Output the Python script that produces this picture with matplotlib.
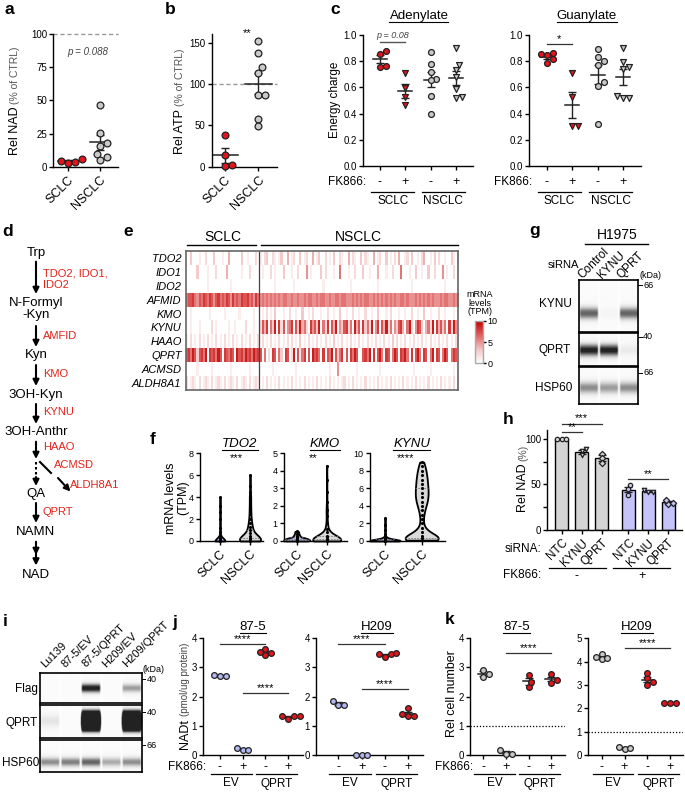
import numpy as np
import matplotlib
matplotlib.use("Agg")
import matplotlib.pyplot as plt
from matplotlib.colors import LinearSegmentedColormap

W, H = 685, 793

# ---------------- data ----------------
# a / b : relative NAD and ATP (% of CTRL)
nad_sclc = [3.0, 6.2, 3.5, 4.5]
nad_nsclc = [46.4, 25.8, 15.8, 18.3, 9.8, 5.3, 7.7]
atp_sclc = [38.3, 14.0, 1.0, 1.5]
atp_nsclc = [152, 137, 120, 113, 87, 87, 58, 49]

# c : energy charge, groups SCLC -, SCLC +, NSCLC -, NSCLC +
fk_signs = ['-', '+', '-', '+']
aden_ec = [[0.852, 0.878, 0.758, 0.766],
           [0.712, 0.593, 0.529, 0.466],
           [0.868, 0.779, 0.715, 0.664, 0.656, 0.534, 0.394],
           [0.903, 0.771, 0.733, 0.677, 0.585, 0.522, 0.529]]
guan_ec = [[0.863, 0.846, 0.853, 0.82, 0.787],
           [0.711, 0.528, 0.308, 0.308],
           [0.893, 0.835, 0.802, 0.771, 0.644, 0.611, 0.318],
           [0.903, 0.791, 0.758, 0.738, 0.517, 0.534, 0.522]]

# d : kynurenine pathway
path_nodes = ['Trp', 'N-Formyl\n-Kyn', 'Kyn', '3OH-Kyn', '3OH-Anthr', 'QA', 'NAMN', 'NAD']
path_enzymes = ['TDO2, IDO1,\nIDO2', 'AMFID', 'KMO', 'KYNU', 'HAAO', 'QPRT']
side_enzymes = ['ACMSD', 'ALDH8A1']

# e : mRNA levels (TPM, 0-9 per cell line) ; SCLC 35 lines, NSCLC 95 lines
genes = ['TDO2', 'IDO1', 'IDO2', 'AFMID', 'KMO', 'KYNU', 'HAAO', 'QPRT', 'ACMSD', 'ALDH8A1']
hm_sclc = ["00300 01002 00030 00100 40000 03001 00020",
           "00000 30000 10002 00004 00000 01000 20000",
           "00000 00000 10000 00000 01000 00000 00000",
           "67786 57687 68757 86768 75867 68778 67586",
           "00100 00000 01000 00010 00000 10000 00100",
           "00100 01000 00201 00000 10010 00020 00100",
           "10201 02010 20102 01020 10201 02010 20102",
           "78697 37869 08786 97087 68709 78697 86978",
           "00000 10000 00100 00000 01000 00000 10000",
           "20121 02012 10201 21020 12102 01210 20121"]
hm_nsclc = ["10230 02101 30040 12003 01200 40130 02010 30021 00402 10030 21004 01200 30102 04001 20300 10240 01030 20010 03102",
            "01000 20100 03000 10020 00501 00003 02000 10060 00100 20003 00100 04000 10020 00600 01003 00100 30020 00501 00200",
            "00000 00100 00000 01000 00000 00000 10000 00000 00010 00000 00000 01000 00000 00000 00100 00000 00000 00010 00000",
            "56565 65656 56655 65565 56566 55656 65565 56656 65556 56565 66556 56565 65656 55665 65556 56565 65655 56566 55656",
            "01020 10300 01002 00100 30010 20001 00200 10030 01002 00100 20010 03000 10200 01001 00200 10030 01000 20010 00100",
            "27480 63908 27056 80739 46208 57390 62807 49053 78260 94708 36290 58074 92605 37840 69205 87304 62908 47360 82950",
            "02010 20102 01020 20103 01020 10201 02010 30102 01020 10201 02010 20102 01030 20102 01020 10201 02010 20102 01020",
            "70602 08706 30870 29071 68070 97860 80769 07368 07086 97007 86908 07960 87069 70879 60807 96087 06908 70697 06870",
            "00000 01000 00000 00100 00000 00000 00010 00500 00000 01000 00000 00100 00000 00000 00010 00000 01000 00000 00100",
            "01020 10102 01010 20101 02010 10201 01020 10101 20102 01010 20101 02010 10201 01020 10102 01010 20101 02010 10201"]

# f : TPM distributions as (value, count)
tdo2_sclc = ([0, 0.05, 0.1, 0.2, 0.3, 0.5, 0.8, 1.2, 2.0, 2.6, 3.2, 4.0],
             [38, 2, 2, 1, 1, 1, 1, 1, 1, 1, 1, 1])
tdo2_nsclc = ([0, 0.1, 0.2, 0.3, 0.5, 0.7, 1.0, 1.3, 1.6, 2.0, 2.5, 3.0, 3.5, 4.0, 4.5, 5.0, 6.0],
              [30, 15, 10, 8, 8, 6, 6, 5, 4, 4, 3, 3, 2, 3, 1, 1, 1])
kmo_sclc = ([0, 0.05, 0.1, 0.15, 0.2, 0.3, 0.4, 0.5, 0.55],
            [10, 8, 8, 6, 5, 4, 3, 2, 1])
kmo_nsclc = ([0, 0.05, 0.1, 0.2, 0.3, 0.5, 0.7, 1.0, 1.4, 1.75, 2.2, 2.8, 3.5, 4.3],
             [20, 15, 12, 8, 5, 3, 2, 2, 1, 2, 1, 1, 1, 1])
kynu_sclc = ([0, 0.05, 0.1, 0.2, 0.3, 0.5, 0.8, 1.2, 1.8, 2.6],
             [20, 12, 10, 6, 4, 2, 1, 1, 1, 1])
kynu_nsclc = ([0.1, 0.3, 0.6, 1.0, 1.5, 2.0, 2.5, 3.0, 3.5, 4.0, 4.5, 5.0, 5.5, 6.0, 6.5, 7.0, 7.5, 8.0, 8.5, 9.0],
              [26, 20, 13, 8, 4, 2, 2, 3, 4, 6, 8, 9, 9, 9, 8, 8, 7, 6, 5, 3])

# g : H1975 capillary blot, lanes Control / KYNU / QPRT siRNA
g_lanes = ['Control', 'KYNU', 'QPRT']
g_kynu = [0.65, 0.05, 0.65]
g_qprt = [0.9, 0.9, 0.12]
g_hsp60 = [0.5, 0.45, 0.5]

# h : Rel NAD (%)
h_sirna = ['NTC', 'KYNU', 'QPRT', 'NTC', 'KYNU', 'QPRT']
h_pts = [[100, 100, 100], [89, 87, 82], [84, 79, 74],
         [49, 45, 39], [44, 42, 41.5], [29, 33, 29.5]]

# i : blot
i_lanes = ['Lu139', '87-5/EV', '87-5/QPRT', 'H209/EV', 'H209/QPRT']
i_flag = [0, 0, 0.95, 0, 0.45]
i_qprt = [0.15, 0, 8, 0, 8]
i_hsp60 = [0.5, 0.55, 0.65, 0.4, 0.5]

# j : NADt (pmol/ug protein) ; groups EV -, EV +, QPRT -, QPRT +
j_875 = [[2.70, 2.74, 2.71], [0.17, 0.23, 0.17], [3.42, 3.52, 3.65, 3.48], [1.25, 1.35, 1.34, 1.33]]
j_h209 = [[1.85, 1.72, 1.73], [0.01, 0.01, 0.01], [3.36, 3.45, 3.48, 3.45], [1.32, 1.60, 1.32, 1.42]]
# k : Rel cell number
k_875 = [[2.93, 2.66, 2.78], [0.04, 0.17, 0.03], [2.34, 2.74, 2.50], [2.48, 2.76, 2.58]]
k_h209 = [[4.33, 4.10, 4.15, 4.18], [0.24, 0.35, 0.29], [3.28, 3.50, 3.12, 3.02], [2.24, 2.24, 2.24]]

RED = '#e3141b'
GRAY = '#c9c9c9'
LAV = '#b4b8f0'
TRED = '#e2231a'

plt.rcParams['font.family'] = ['Liberation Sans', 'DejaVu Sans']
plt.rcParams['axes.linewidth'] = 1.0
plt.rcParams['xtick.major.width'] = 1.0
plt.rcParams['ytick.major.width'] = 1.0
plt.rcParams['xtick.major.size'] = 3
plt.rcParams['ytick.major.size'] = 3
plt.rcParams['xtick.labelsize'] = 7
plt.rcParams['ytick.labelsize'] = 7
plt.rcParams['xtick.major.pad'] = 2
plt.rcParams['ytick.major.pad'] = 1.5

fig = plt.figure(figsize=(W / 100, H / 100), dpi=100)
R = fig.canvas.get_renderer()
ov = fig.add_axes([0, 0, 1, 1], zorder=20)
ov.set_xlim(0, W)
ov.set_ylim(H, 0)
ov.set_axis_off()
ov.patch.set_alpha(0)


def px_ax(l, t, r, b):
    return fig.add_axes([l / W, 1 - b / H, (r - l) / W, (b - t) / H])


def clean(ax):
    ax.spines['top'].set_visible(False)
    ax.spines['right'].set_visible(False)
    ax.patch.set_alpha(0)


def xl(l, r, c0, c1):
    u = c1 - c0
    return ((l - c0) / u, (r - c0) / u)


def to_px(ax, x, y):
    X, Y = ax.transData.transform((x, y))
    return X, H - Y


def utitle(x, y, s, size=9.5, style='normal'):
    t = ov.text(x, y, s, fontsize=size, style=style, ha='center', va='center')
    w = t.get_window_extent(R).width
    ov.plot([x - w / 2, x + w / 2], [y + size * 0.62] * 2, color='k', lw=0.8)


def vlabel(x, yc, parts, gap=2.5):
    ts = [ov.text(x, 0, s, fontsize=sz, color=c, rotation=90, ha='center', va='bottom')
          for s, sz, c in parts]
    hs = [t.get_window_extent(R).height for t in ts]
    y = yc + (sum(hs) + gap * (len(ts) - 1)) / 2
    for t, h in zip(ts, hs):
        t.set_y(y)
        y -= h + gap


def swarm(v, dx, dy):
    off = np.zeros(len(v))
    done = []
    for i in np.argsort(v, kind='stable'):
        o = 0
        for k in (0, 0.5, -0.5, 1, -1, 1.5, -1.5, 2, -2):
            o = k * dx
            if all(((o - p) / dx) ** 2 + ((v[i] - q) / dy) ** 2 >= 0.8 for p, q in done):
                break
        off[i] = o
        done.append((o, v[i]))
    return off


def dotplot(ax, groups, fcs, mks, s=20, hw=0.28, ecol='#222', pos=None):
    bb = ax.get_window_extent(R)
    ppx = bb.width / abs(np.diff(ax.get_xlim())[0])
    ppy = bb.height / abs(np.diff(ax.get_ylim())[0])
    d = np.sqrt(s) * 100 / 72
    if pos is None:
        pos = range(len(groups))
    for i, g in zip(pos, groups):
        v = np.asarray(g, float)
        off = swarm(v, d / ppx, d / ppy)
        m = v.mean()
        se = v.std(ddof=1) / np.sqrt(len(v))
        if hw:
            ax.plot([i - hw, i + hw], [m, m], color=ecol, lw=1.1, zorder=2)
        ax.errorbar(i, m, yerr=se, fmt='none', ecolor=ecol, elinewidth=1,
                    capsize=3, capthick=1, zorder=2)
        k = list(pos).index(i)
        ax.scatter(i + off, v, s=s, marker=mks[k], facecolor=fcs[k], edgecolor='#222',
                   linewidth=0.9, zorder=3, clip_on=False)


def sig(ax, x0, x1, y, s, size=8, col='k'):
    ax.plot([x0, x1], [y, y], color='#333', lw=0.9, clip_on=False)
    ax.text((x0 + x1) / 2, y, s, ha='center', va='bottom', fontsize=size, color=col, clip_on=False)


def fk_row(ax, y, groups, label=True, dy1=10, dy2=19):
    xs = [to_px(ax, i, 0)[0] for i in range(4)]
    if label:
        x0 = to_px(ax, ax.get_xlim()[0], 0)[0]
        ov.text(x0 + 3, y, 'FK866:', ha='right', va='center', fontsize=8.5)
    for x, s in zip(xs, fk_signs):
        ov.text(x, y, s, ha='center', va='center', fontsize=9)
    for (a, b), name in zip([(0, 1), (2, 3)], groups):
        ov.plot([xs[a] - 9, xs[b] + 9], [y + dy1] * 2, color='k', lw=0.9)
        ov.text((xs[a] + xs[b]) / 2, y + dy2, name, ha='center', va='center', fontsize=8.5)


# ---------------- a ----------------
ax = px_ax(53.3, 34, 118.3, 167)
clean(ax)
ax.set_ylim(0, 100)
ax.set_xlim(*xl(53.3, 118.3, 68, 100))
ax.set_yticks([0, 25, 50, 75, 100])
ax.set_xticks([0, 1])
ax.set_xticklabels(['SCLC', 'NSCLC'], rotation=45, ha='right', rotation_mode='anchor', fontsize=9)
ax.axhline(100, color='#999', ls=(0, (3, 2)), lw=1, clip_on=False)
dotplot(ax, [nad_sclc, nad_nsclc], [RED, GRAY], ['o', 'o'], s=24, hw=0.3)
ax.text(0.63, 86.5, 'p = 0.088', style='italic', fontsize=7, color='#444', ha='center', va='center')
vlabel(15, 101, [('Rel NAD', 9, 'k'), ('(% of CTRL)', 7.5, '#555')])

# ---------------- b ----------------
ax = px_ax(211.7, 34.4, 276.7, 166.7)
clean(ax)
ax.set_ylim(0, 160)
ax.set_xlim(*xl(211.7, 276.7, 225, 258.3))
ax.set_yticks([0, 50, 100, 150])
ax.set_xticks([0, 1])
ax.set_xticklabels(['SCLC', 'NSCLC'], rotation=45, ha='right', rotation_mode='anchor', fontsize=9)
ax.axhline(100, color='#999', ls=(0, (3, 2)), lw=1, clip_on=False)
dotplot(ax, [atp_sclc, atp_nsclc], [RED, GRAY], ['o', 'o'], s=24, hw=0.4)
ax.text(0.66, 156, '**', fontsize=8, ha='center', va='bottom')
vlabel(180, 101, [('Rel ATP', 9, 'k'), ('(% of CTRL)', 7.5, '#555')])

# ---------------- c ----------------
for title, data, (l, r, c0, c1), tx in [('Adenylate', aden_ec, (363.3, 473, 380, 405.3), 419),
                                         ('Guanylate', guan_ec, (529.3, 640.7, 546.7, 572.2), 586.7)]:
    ax = px_ax(l, 35, r, 166)
    clean(ax)
    ax.set_ylim(0, 1)
    ax.set_xlim(*xl(l, r, c0, c1))
    ax.set_yticks(np.arange(0, 1.01, 0.2))
    ax.set_yticklabels(['%.1f' % t for t in np.arange(0, 1.01, 0.2)])
    ax.set_xticks(range(4))
    ax.set_xticklabels([])
    dotplot(ax, data, [RED, RED, GRAY, GRAY], ['o', 'v', 'o', 'v'], s=18, hw=0.28)
    utitle(tx, 15.7, title, size=9.5)
    fk_row(ax, 182, ['SCLC', 'NSCLC'])
    if title == 'Adenylate':
        ax.plot([0, 1], [0.949, 0.949], color='#555', lw=1, clip_on=False)
        ax.text(0.5, 0.962, 'p = 0.08', style='italic', fontsize=6.5, color='#444', ha='center', va='bottom')
    else:
        sig(ax, 0, 1, 0.929, '*', size=8)
ov.text(335, 100, 'Energy charge', rotation=90, fontsize=8.5, ha='center', va='center')

# ---------------- d ----------------
node_y = [253, 309, 355, 395, 432.3, 494.3, 531.7, 575]
for s, y in zip(path_nodes, node_y):
    ov.text(36, y, s, fontsize=9.5, ha='center', va='center', linespacing=0.95)
arrow_y = [(261.7, 294), (326, 347), (365, 386), (404, 424), (441.7, 459), (503, 523)]
enz_y = [279, 336, 374, 411.7, 447, 511.7]
for (y0, y1), s, ye in zip(arrow_y, path_enzymes, enz_y):
    ov.annotate('', xy=(36, y1), xytext=(36, y0),
                arrowprops=dict(arrowstyle='-|>', lw=1.5, color='k', mutation_scale=9,
                                shrinkA=0, shrinkB=0))
    ov.text(43, ye, s, fontsize=8, color=TRED, ha='left', va='center', linespacing=1.15)
ov.plot([36, 36], [462, 477], color='k', lw=1.5, ls=(0, (1.2, 1.2)))
ov.annotate('', xy=(36, 486), xytext=(36, 477),
            arrowprops=dict(arrowstyle='-|>', lw=1.5, color='k', mutation_scale=9, shrinkA=0, shrinkB=0))
ov.plot([40, 51], [462, 473], color='k', lw=1.5)
ov.annotate('', xy=(70.5, 491.5), xytext=(58, 478),
            arrowprops=dict(arrowstyle='-|>', lw=1.5, color='k', mutation_scale=9, shrinkA=0, shrinkB=0))
ov.text(54, 465, side_enzymes[0], fontsize=8, color=TRED, ha='left', va='center')
ov.text(70, 485, side_enzymes[1], fontsize=8, color=TRED, ha='left', va='center')
for y0, y1 in [(541.7, 555), (552, 565.5)]:
    ov.annotate('', xy=(36, y1), xytext=(36, y0),
                arrowprops=dict(arrowstyle='-|>', lw=1.5, color='k', mutation_scale=9, shrinkA=0, shrinkB=0))

# ---------------- e ----------------
rows_s = [[int(c) for c in r.replace(' ', '')] for r in hm_sclc]
rows_n = [[int(c) for c in r.replace(' ', '')] for r in hm_nsclc]
ns = min(len(r) for r in rows_s)
nn = min(len(r) for r in rows_n)
M = np.array([a[:ns] + b[:nn] for a, b in zip(rows_s, rows_n)], float)
cmap = LinearSegmentedColormap.from_list('wr', ['#ffffff', '#f3c4c4', '#e06060', '#c00000'])
ax = px_ax(185.7, 251, 458.3, 390)
im = ax.imshow(M, aspect='auto', cmap=cmap, vmin=0, vmax=10, interpolation='nearest',
               extent=(0, ns + nn, len(genes), 0))
ax.axvline(ns, color='#444', lw=0.9)
ax.set_xticks([])
ax.set_yticks(np.arange(len(genes)) + 0.5)
ax.set_yticklabels(genes, fontsize=8, style='italic')
ax.tick_params(axis='y', length=0, pad=3)
for s in ax.spines.values():
    s.set_color('#666')
    s.set_linewidth(1.2)
x_div = to_px(ax, ns, 0)[0]
ov.plot([187, x_div - 3], [245, 245], color='k', lw=1)
ov.plot([x_div + 2, 458], [245, 245], color='k', lw=1)
ov.text((185.7 + x_div) / 2, 237, 'SCLC', fontsize=10, ha='center', va='center')
ov.text((x_div + 458.3) / 2, 237, 'NSCLC', fontsize=10, ha='center', va='center')
cax = px_ax(475, 321, 483.3, 363.3)
cb = fig.colorbar(im, cax=cax, ticks=[0, 5, 10])
cb.outline.set_edgecolor('#aaa')
cax.tick_params(labelsize=6.5, length=2, pad=1)
ov.text(480, 303, 'mRNA\nlevels\n(TPM)', fontsize=6.5, ha='center', va='center', linespacing=0.9)

# ---------------- f ----------------
f_sets = [('TDO2', tdo2_sclc, tdo2_nsclc, (200, 263.3, 220, 250), 8, [0, 2, 4, 6, 8], '***', (10, 21), 240, 0.3),
          ('KMO', kmo_sclc, kmo_nsclc, (284, 347, 296.7, 326.7), 5, [0, 1, 2, 3, 4, 5], '**', (26, 28), 325, 0.3),
          ('KYNU', kynu_sclc, kynu_nsclc, (370, 445, 385, 421.7), 10, [0, 2, 4, 6, 8, 10], '****', (30, 33), 411.7, 0.17)]
for name, sc, ns_, (l, r, c0, c1), top, ticks, star, wpx, tx, bw in f_sets:
    ax = px_ax(l, 453.3, r, 541)
    clean(ax)
    ax.set_ylim(0, top)
    ax.set_xlim(*xl(l, r, c0, c1))
    ax.set_yticks(ticks)
    ax.tick_params(axis='y', labelsize=6.5)
    ax.set_xticks([0, 1])
    ax.set_xticklabels(['SCLC', 'NSCLC'], rotation=45, ha='right', rotation_mode='anchor', fontsize=9)
    for p, (vals, cnt), fc, w in zip([0, 1], [sc, ns_], [LAV, '#d9d9d9'], wpx):
        data = np.repeat(vals, cnt).astype(float)
        parts = ax.violinplot([data], positions=[p], widths=w / (c1 - c0), showextrema=False,
                              bw_method=0.3 if p == 0 else bw)
        body = parts['bodies'][0]
        body.set_facecolor(fc)
        body.set_edgecolor('k')
        body.set_linewidth(1.3)
        body.set_alpha(1)
        body.set_clip_on(False)
        vt = body.get_paths()[0].vertices
        rs = vt[vt[:, 0] >= p]
        o = np.argsort(rs[:, 1])
        for q in np.percentile(data, [25, 50, 75]):
            hwid = np.interp(q, rs[o, 1], rs[o, 0]) - p
            if hwid > 0.05:
                ax.plot([p - hwid, p + hwid], [q, q], color='#777', lw=0.6, ls=(0, (2, 1.5)), zorder=3)
        ax.scatter(np.full(len(vals), p), vals, s=1.5, c='k', zorder=4, clip_on=False)
    utitle(tx, 444.3, name, size=9.5, style='italic')
    ov.text(to_px(ax, 0.55, 0)[0], 458, star, fontsize=8, ha='center', va='center')
ov.text(177, 498, 'mRNA levels\n(TPM)', rotation=90, fontsize=9, ha='center', va='center', linespacing=1.0)


# ---------------- blots ----------------
def blot(l, t, r, b, amps, yc, sg):
    a = px_ax(l, t, r, b)
    n = len(amps)
    yy = np.linspace(0, 1, 160)[:, None]
    xx = (np.arange(n * 40) + 0.5)[None, :] / 40
    fr = xx % 1
    lane = np.clip((0.5 - np.abs(fr - 0.5)) / 0.09, 0, 1)
    amp = np.repeat(np.asarray(amps, float), 40)[None, :]
    img = 0.035 * lane + amp * lane * np.exp(-0.5 * ((yy - yc) / sg) ** 2)
    a.imshow(np.clip(img, 0, 0.88), cmap='Greys', vmin=0, vmax=1, aspect='auto',
             extent=(0, n, 1, 0), interpolation='bilinear')
    a.set_xticks([])
    a.set_yticks([])
    for s in a.spines.values():
        s.set_linewidth(1.2)
    return a


def kda(x, y, s):
    ov.plot([x, x + 3.5], [y, y], color='k', lw=0.7)
    ov.text(x + 5, y, s, fontsize=6.5, ha='left', va='center')


# g
blot(579, 280, 638.3, 331.7, g_kynu, 0.64, 0.085)
blot(579, 333.3, 638.3, 365.7, g_qprt, 0.52, 0.13)
blot(579, 367.3, 638.3, 404, g_hsp60, 0.56, 0.12)
for k, s in enumerate(g_lanes):
    xc = 579 + (k + 0.5) * (638.3 - 579) / 3
    ov.text(xc - 7, 279, s, rotation=45, rotation_mode='anchor', ha='left', va='baseline', fontsize=8.5)
ov.text(555, 304.3, 'KYNU', fontsize=8.5, ha='center', va='center')
ov.text(555, 350, 'QPRT', fontsize=8.5, ha='center', va='center')
ov.text(554, 387.7, 'HSP60', fontsize=8.5, ha='center', va='center')
ov.text(563, 265, 'siRNA', fontsize=8, ha='center', va='center')
ov.text(617, 235, 'H1975', fontsize=10, ha='center', va='center')
ov.plot([585, 648], [244, 244], color='k', lw=1)
ov.text(640, 275, '(kDa)', fontsize=6.5, ha='left', va='center')
kda(638.3, 285, '66')
kda(638.3, 336.7, '40')
kda(638.3, 372.7, '66')

# i
blot(40, 672.7, 141.7, 702.7, i_flag, 0.52, 0.1)
blot(40, 705, 141.7, 738.3, i_qprt, 0.5, 0.14)
blot(40, 740, 141.7, 772.3, i_hsp60, 0.7, 0.1)
i_lane_w = (141.7 - 40) / 5
for k, s in enumerate(i_lanes):
    xc = 40 + (k + 0.5) * i_lane_w
    ov.text(xc - 5, 668, s, rotation=45, rotation_mode='anchor', ha='left', va='baseline', fontsize=8)
ov.text(38, 689, 'Flag', fontsize=8.5, ha='right', va='center')
ov.text(38, 723, 'QPRT', fontsize=8.5, ha='right', va='center')
ov.text(39, 762.7, 'HSP60', fontsize=8.5, ha='right', va='center')
ov.text(143, 669.3, '(kDa)', fontsize=6.5, ha='left', va='center')
kda(141.7, 679, '40')
kda(141.7, 712.3, '40')
kda(141.7, 745, '66')

# ---------------- h ----------------
h_pos = np.r_[np.arange(3), np.arange(3) + 3.33]
h_means = [np.mean(p) for p in h_pts]
h_cols = ['#d4d4d4'] * 3 + ['#c4c4fa'] * 3
ax = px_ax(547.3, 429.9, 681.7, 530)
clean(ax)
ax.set_ylim(0, 110)
ax.set_xlim(*xl(547.3, 681.7, 561.7, 581.7))
ax.bar(h_pos, h_means, width=0.64, color=h_cols, edgecolor='k', linewidth=1, zorder=1)
dotplot(ax, h_pts, h_cols, ['o', 'v', 'D', 'o', 'v', 'D'], s=10, hw=0, pos=list(h_pos))
ax.set_yticks([0, 25, 50, 75, 100])
ax.set_yticklabels(['0', '', '50', '', '100'])
ax.set_xticks(h_pos)
ax.set_xticklabels(h_sirna, rotation=45, ha='right', rotation_mode='anchor', fontsize=8.5)
sig(ax, h_pos[0], h_pos[2], 117, '***', size=8)
sig(ax, h_pos[0], h_pos[1], 107.4, '**', size=8)
sig(ax, h_pos[3], h_pos[5], 56, '**', size=8)
vlabel(523, 478, [('Rel NAD', 9, 'k'), ('(%)', 7.5, '#555')])
ov.text(541, 549.3, 'siRNA:', fontsize=8.5, ha='right', va='center')
ov.text(541, 575, 'FK866:', fontsize=8.5, ha='right', va='center')
ov.plot([549.3, 605.7], [568.3, 568.3], color='k', lw=0.9)
ov.plot([613.3, 670], [568.3, 568.3], color='k', lw=0.9)
ov.text(576.7, 576, '-', fontsize=9, ha='center', va='center')
ov.text(641.7, 576, '+', fontsize=9, ha='center', va='center')

# ---------------- j / k ----------------
jk = [(j_875, (203.3, 302.7, 220, 242.7), 4, LAV, '87-5', 253, True,
       [(0, 2, 3.81), (1, 3, 2.11)], False),
      (j_h209, (316, 423.3, 338.3, 361.6), 4, LAV, 'H209', 376.7, False,
       [(0, 2, 3.79), (1, 3, 2.25)], False),
      (k_875, (470, 565, 483.3, 505.9), 4, GRAY, '87-5', 516.7, True,
       [(1, 3, 3.5)], True),
      (k_h209, (588.3, 683, 601.7, 624.5), 5, GRAY, 'H209', 636.7, False,
       [(1, 3, 4.6)], True)]
for data, (l, r, c0, c1), top, evc, title, tx, lab, sigs, dotted in jk:
    ax = px_ax(l, 638.3, r, 755)
    clean(ax)
    ax.set_ylim(0, top)
    ax.set_xlim(*xl(l, r, c0, c1))
    ax.set_yticks(range(top + 1))
    ax.set_xticks(range(4))
    ax.set_xticklabels([])
    if dotted:
        ax.axhline(1, color='k', ls=(0, (1, 1.5)), lw=0.9, zorder=0)
    dotplot(ax, data, [evc, evc, RED, RED], ['o'] * 4, s=17, hw=0.25)
    for a, b, y in sigs:
        sig(ax, a, b, y, '****', size=8)
    utitle(tx, 626.7, title, size=9.5)
    fk_row(ax, 766.7, ['EV', 'QPRT'], label=lab, dy1=7.6, dy2=16.8)
vlabel(185, 696, [('NADt', 9, 'k'), ('(pmol/ug protein)', 7, '#444')])
ov.text(452, 694, 'Rel cell number', rotation=90, fontsize=9, ha='center', va='center')

# ---------------- panel letters ----------------
for lab, x, y in [('a', 5, 10), ('b', 165, 10), ('c', 330, 10), ('d', 2, 231), ('e', 123, 232),
                  ('f', 150, 440), ('g', 529, 231), ('h', 503, 420), ('i', 3, 622),
                  ('j', 172, 623), ('k', 445, 619)]:
    ov.text(x, y, lab, fontsize=12.5, fontweight='bold', ha='left', va='center')

fig.savefig('out.png', dpi=100)
